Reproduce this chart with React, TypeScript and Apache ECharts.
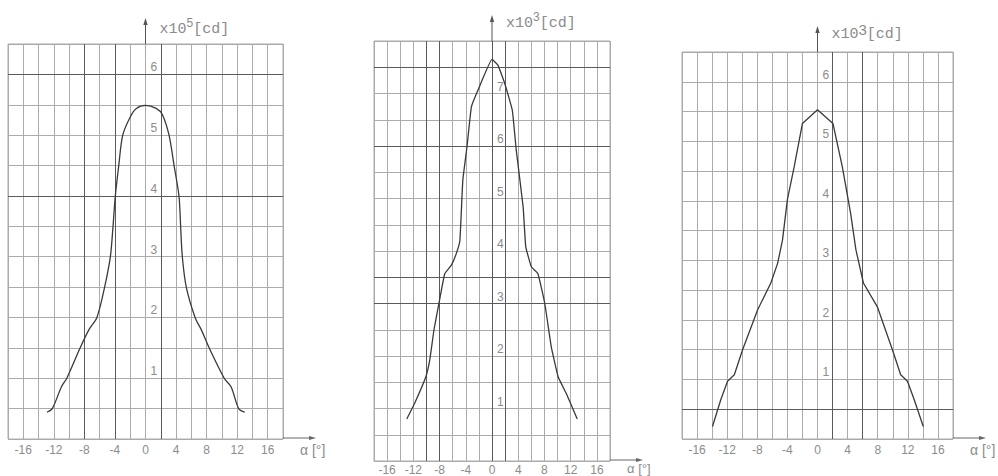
import { useEffect, useRef } from "react";
import * as echarts from "echarts";

// x-axis tick labels (degrees)
const xTickLabels = [-16, -12, -8, -4, 0, 4, 8, 12, 16];

// Panel 1 (x10^5 cd)
const alpha1 = [-12.9, -12.2, -11.0, -10.3, -8.55, -7.4, -6.36, -5.35, -4.6, -4.25, -3.95, -3.5, -2.98, -2.0, -1.2, 0, 1.4, 2.2, 3.08, 3.74, 4.38, 4.6, 4.82, 5.34, 6.49, 7.3, 8.33, 10.3, 11.2, 12.2, 13.0];
const intensity1 = [0.44, 0.5, 0.86, 1.0, 1.5, 1.8, 2.0, 2.5, 3.0, 3.5, 4.0, 4.5, 5.0, 5.3, 5.44, 5.49, 5.44, 5.34, 5.0, 4.5, 4.0, 3.5, 3.0, 2.5, 2.0, 1.8, 1.5, 1.0, 0.86, 0.5, 0.44];
const yTickLabels1 = [1, 2, 3, 4, 5, 6];
const boldX1 = [-8, -4, 2];
const boldY1 = [6, 4];

// Panel 2 (x10^3 cd)
const alpha2 = [-13, -11.8, -10.1, -9.5, -8.85, -8.1, -7.2, -6.2, -5.45, -4.9, -4.45, -3.8, -3.15, -2.15, 0, 0.9, 1.95, 3.1, 3.7, 4.75, 5.15, 6.0, 7.0, 8.05, 9.05, 10.1, 11.35, 13];
const intensity2 = [0.8, 1.1, 1.6, 1.92, 2.5, 3.0, 3.57, 3.73, 3.95, 4.2, 5.35, 6.0, 6.74, 7.06, 7.65, 7.54, 7.19, 6.68, 5.92, 4.84, 4.08, 3.7, 3.57, 3.0, 2.17, 1.6, 1.28, 0.8];
const yTickLabels2 = [1, 2, 3, 4, 5, 6, 7];
const boldX2 = [-10, -8, 0, 2];
const boldY2 = [7.5, 6, 3.5, 3];

// Panel 3 (x10^3 cd)
const alpha3 = [-13.95, -12.85, -11.95, -11.05, -9.95, -7.95, -6.2, -5.3, -4.65, -4.0, -3.1, -2.0, 0, 2.05, 3.3, 4.4, 5.1, 6.1, 7.95, 9.95, 11.05, 11.95, 12.85, 14.05];
const intensity3 = [0.21, 0.66, 0.97, 1.08, 1.5, 2.17, 2.62, 2.95, 3.34, 4.02, 4.57, 5.3, 5.53, 5.3, 4.57, 3.79, 3.18, 2.62, 2.22, 1.5, 1.08, 0.97, 0.66, 0.21];
const yTickLabels3 = [1, 2, 3, 4, 5, 6];
const boldX3 = [2, 6];
const boldY3 = [0.5];

const exponents = ["5", "3", "3"];
const yMaxes = [6.5, 8, 6.5];

const FONT = "Liberation Sans";
const TITLE_FONT = "Liberation Mono";
const GRID_C = "#ababab";
const BOLD_C = "#5a5a5a";
const TEXT_C = "#8c8c8c";
const CURVE_C = "#3a3a3a";

export default function App() {
  const ref = useRef<HTMLDivElement>(null);
  useEffect(() => {
    const chart = echarts.init(ref.current!, null, { renderer: "svg" });
    const panels = [
      { grid: { left: 8, top: 44, width: 275, height: 395 }, xs: alpha1, ys: intensity1, ticks: yTickLabels1, bx: boldX1, by: boldY1, smooth: 0.3, xMargin: 5 },
      { grid: { left: 374, top: 41, width: 236, height: 420 }, xs: alpha2, ys: intensity2, ticks: yTickLabels2, bx: boldX2, by: boldY2, smooth: 0.1, xMargin: 3 },
      { grid: { left: 682, top: 52, width: 271, height: 387 }, xs: alpha3, ys: intensity3, ticks: yTickLabels3, bx: boldX3, by: boldY3, smooth: false, xMargin: 5 },
    ];
    const option: any = {
      animation: false,
      backgroundColor: "#fff",
      grid: panels.map((p) => ({ ...p.grid, show: true, borderColor: GRID_C, borderWidth: 1, containLabel: false })),
      xAxis: panels.map((p, i) => ({
        type: "value",
        gridIndex: i,
        min: -18,
        max: 18,
        interval: 2,
        axisLine: { show: false },
        axisTick: { show: false },
        axisLabel: {
          margin: p.xMargin,
          color: TEXT_C,
          fontFamily: FONT,
          fontSize: 12,
          formatter: (v: number) => (xTickLabels.includes(v) ? String(v) : ""),
        },
        splitLine: { show: true, lineStyle: { color: GRID_C, width: 1 } },
      })),
      yAxis: panels.map((p, i) => ({
        type: "value",
        gridIndex: i,
        min: 0,
        max: yMaxes[i],
        interval: 0.5,
        position: "left",
        offset: -p.grid.width / 2,
        axisLine: { show: false, onZero: false },
        axisTick: { show: false },
        axisLabel: {
          inside: true,
          margin: 5,
          verticalAlign: "bottom",
          padding: [0, 0, 1, 0],
          color: TEXT_C,
          fontFamily: FONT,
          fontSize: 12,
          formatter: (v: number) => (p.ticks.includes(v) ? String(v) : ""),
        },
        splitLine: { show: true, lineStyle: { color: GRID_C, width: 1 } },
      })),
      series: panels.map((p, i) => ({
        type: "line",
        xAxisIndex: i,
        yAxisIndex: i,
        data: p.xs.map((x, k) => [x, p.ys[k]]),
        showSymbol: false,
        symbol: "none",
        smooth: p.smooth,
        lineStyle: { color: CURVE_C, width: 1.3 },
        z: 5,
        markLine: {
          silent: true,
          symbol: "none",
          label: { show: false },
          lineStyle: { color: BOLD_C, width: 1, type: "solid" },
          data: [...p.bx.map((x) => ({ xAxis: x })), ...p.by.map((y) => ({ yAxis: y }))],
        },
      })),
    };
    chart.setOption(option);

    const graphics: any[] = [];
    panels.forEach((p, i) => {
      const top = chart.convertToPixel({ gridIndex: i }, [0, yMaxes[i]]) as number[];
      const br = chart.convertToPixel({ gridIndex: i }, [18, 0]) as number[];
      const ax = top[0];
      const tipY = top[1] - 26;
      // y-axis arrow
      graphics.push({ type: "line", shape: { x1: ax, y1: top[1], x2: ax, y2: tipY + 4 }, style: { stroke: "#555", lineWidth: 1 } });
      graphics.push({ type: "polygon", shape: { points: [[ax - 2.2, tipY + 7], [ax, tipY], [ax + 2.2, tipY + 7]] }, style: { fill: "#555" } });
      // y-axis title
      graphics.push({
        type: "text",
        x: ax + 14,
        y: top[1] - (i === 0 ? 27 : 30),
        style: {
          text: "x10{s|" + exponents[i] + "}[cd]",
          fill: TEXT_C,
          fontFamily: TITLE_FONT,
          fontSize: 15,
          lineHeight: 24,
          rich: { s: { fontSize: i === 2 ? 15 : 12, fontFamily: FONT, fill: TEXT_C, verticalAlign: "top", lineHeight: 24 } },
        },
      });
      // x-axis arrow
      const ex = br[0] + 33;
      graphics.push({ type: "line", shape: { x1: br[0], y1: br[1] - 1, x2: ex - 5, y2: br[1] - 1 }, style: { stroke: "#666", lineWidth: 1 } });
      graphics.push({ type: "polygon", shape: { points: [[ex - 7, br[1] - 3], [ex, br[1] - 1], [ex - 7, br[1] + 1]] }, style: { fill: "#666" } });
      // x-axis name
      graphics.push({
        type: "text",
        x: br[0] + 17,
        y: br[1] + (i === 1 ? 7 : 11),
        style: { text: "α [°]", fill: TEXT_C, fontFamily: FONT, fontSize: i === 1 ? 13 : 14, verticalAlign: "middle" },
      });
    });
    chart.setOption({ graphic: graphics });

    return () => chart.dispose();
  }, []);
  return <div ref={ref} style={{ position: "absolute", left: 0, top: 0, width: 998, height: 476, background: "#fff" }} />;
}
